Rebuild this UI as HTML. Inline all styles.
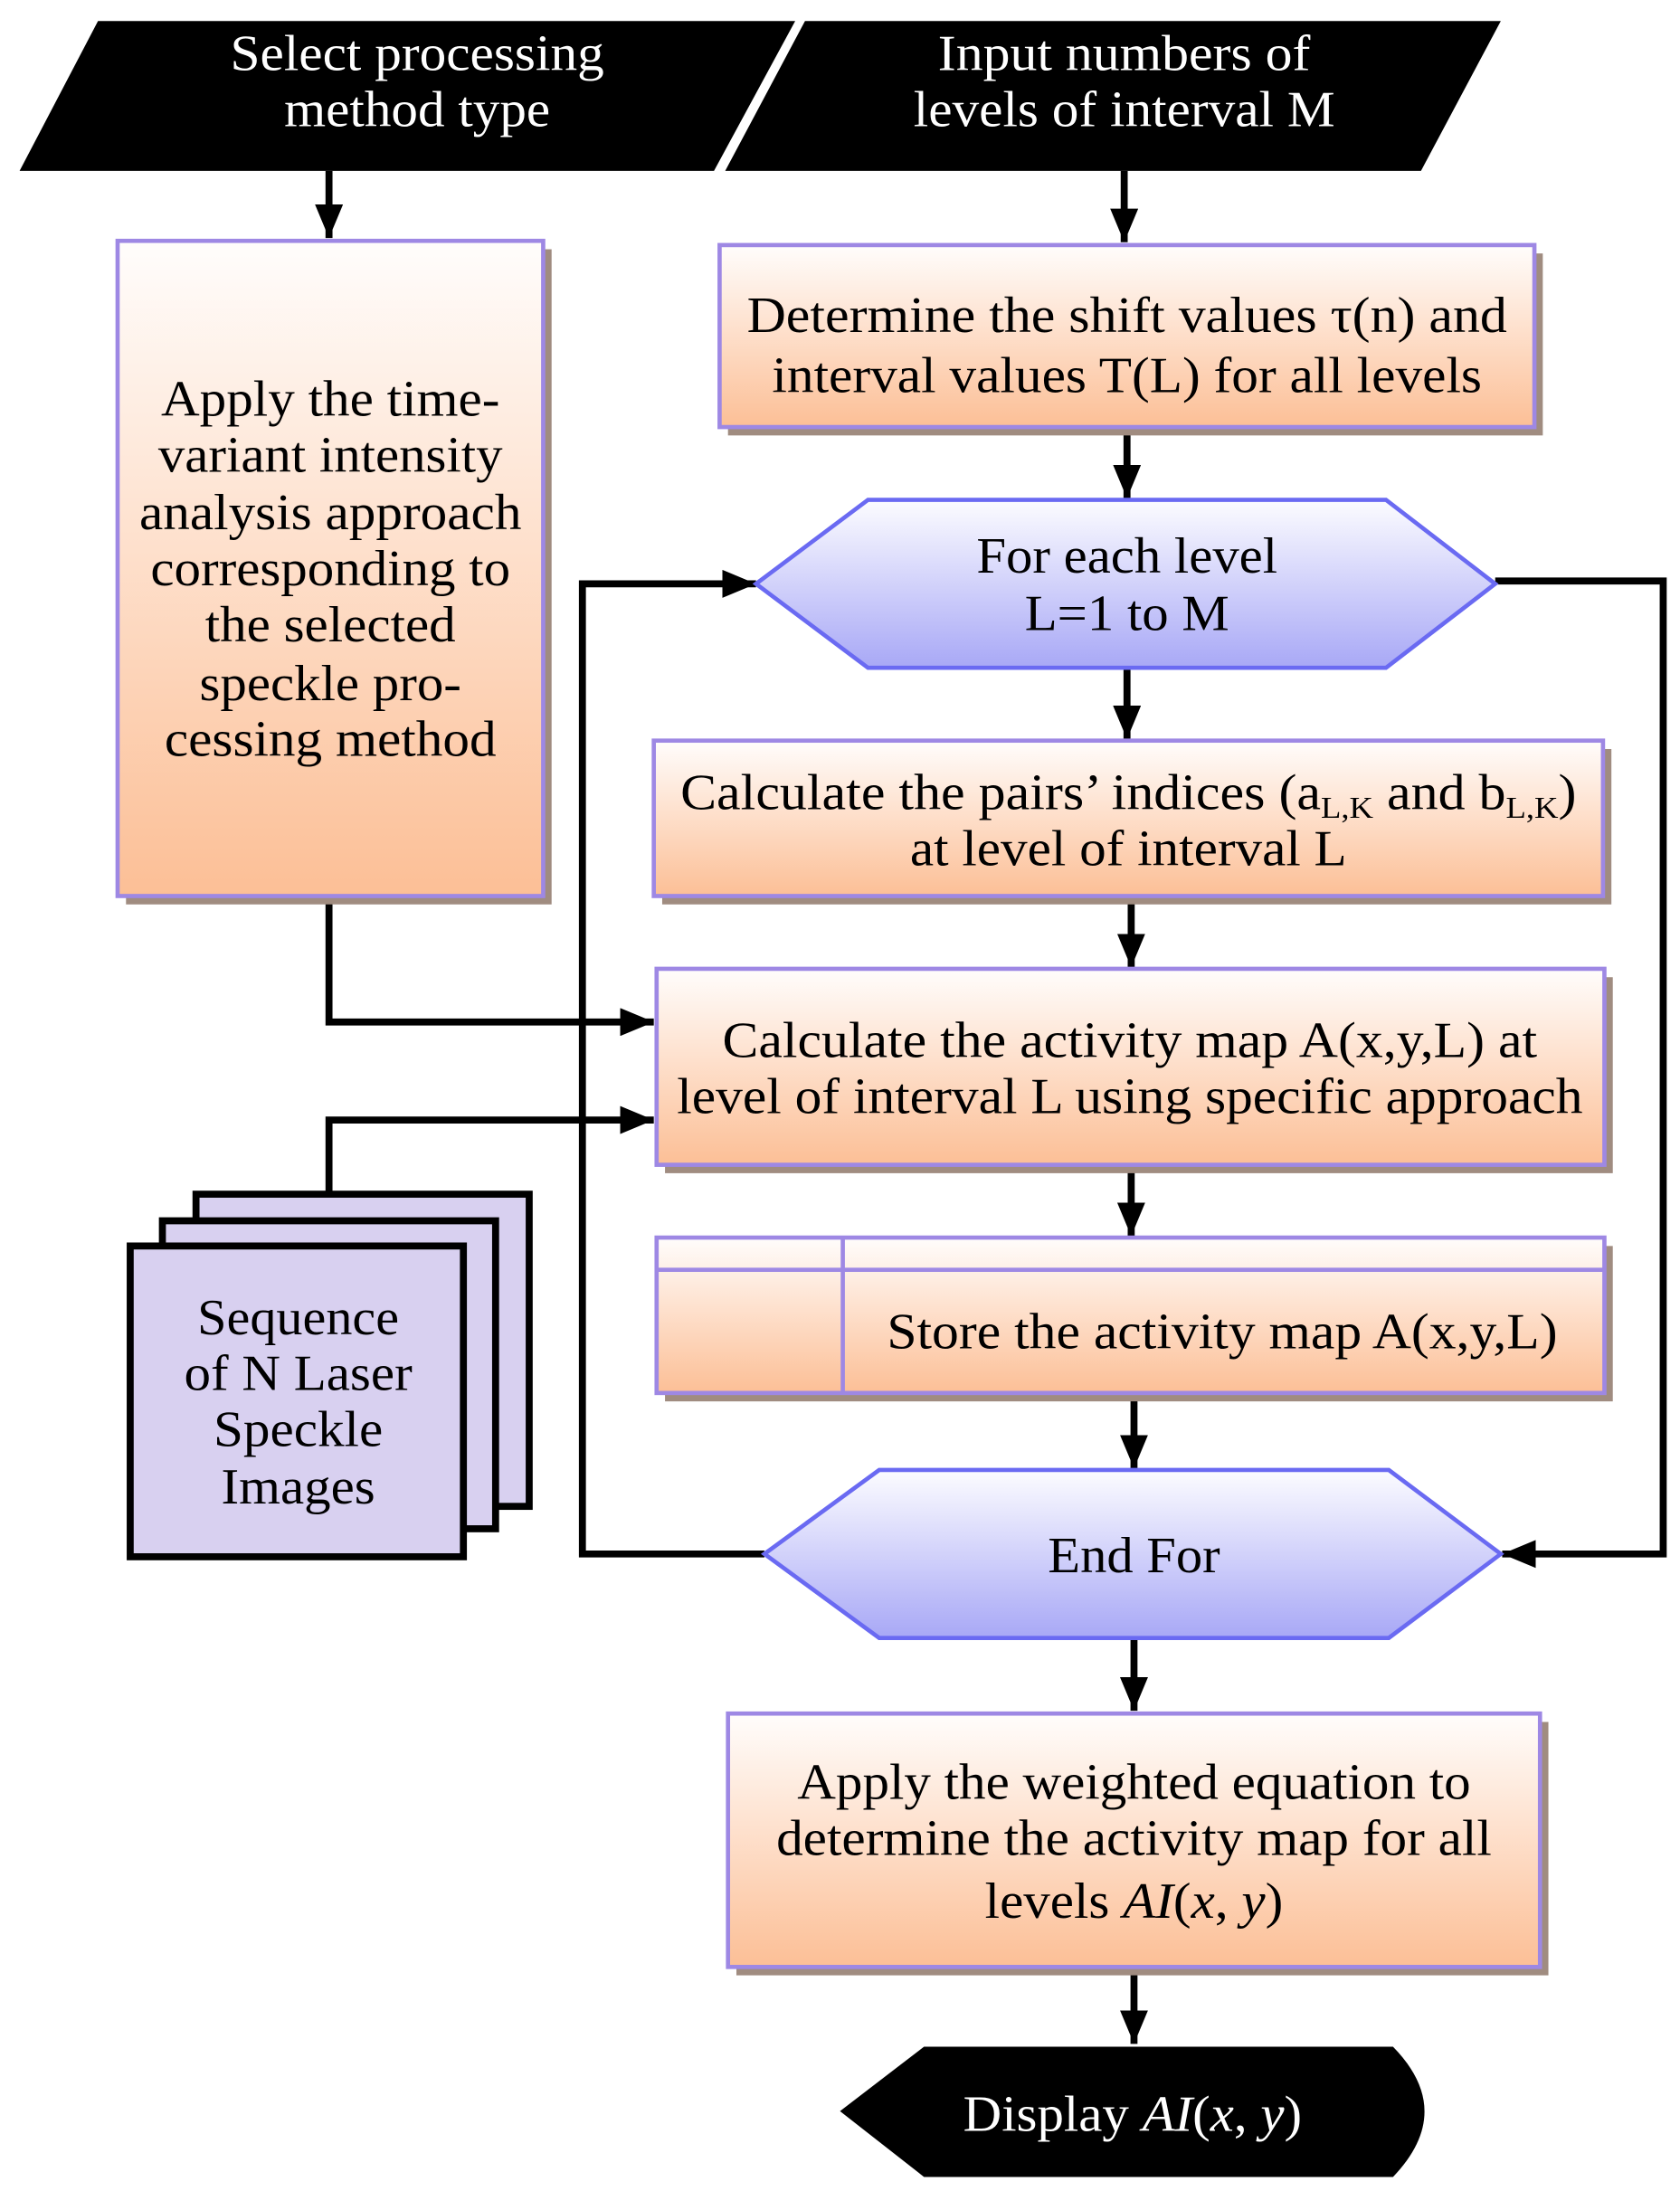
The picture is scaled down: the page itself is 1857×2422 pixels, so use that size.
<!DOCTYPE html>
<html><head><meta charset="utf-8"><style>html,body{margin:0;padding:0;background:#fff}svg{display:block}</style></head>
<body>
<svg width="1857" height="2422" viewBox="0 0 1200 1565" xmlns="http://www.w3.org/2000/svg" font-family="Liberation Serif, serif" font-size="36">
<defs>
<linearGradient id="pe" x1="0" y1="0" x2="0" y2="1"><stop offset="0" stop-color="#fffdfc"/><stop offset="1" stop-color="#fcbf96"/></linearGradient>
<linearGradient id="bl" x1="0" y1="0" x2="0" y2="1"><stop offset="0" stop-color="#fcfcff"/><stop offset="1" stop-color="#a8a8f6"/></linearGradient>
<marker id="ar" markerWidth="24" markerHeight="20" refX="24" refY="10" orient="auto" markerUnits="userSpaceOnUse" viewBox="0 0 24 20"><path d="M0,0 L24,10 L0,20 z"/></marker>
</defs>
<g fill="#000">
<polygon points="70,15 568,15 510,122 14,122"/>
<polygon points="575,15 1072,15 1015,122 518,122"/>
<path d="M600,1508 L660,1462 L995,1462 Q1040,1508 995,1555 L660,1555 Z"/>
</g>
<g fill="#fff" text-anchor="middle">
<text x="298" y="50" textLength="267" lengthAdjust="spacingAndGlyphs">Select processing</text>
<text x="298" y="90" textLength="190" lengthAdjust="spacingAndGlyphs">method type</text>
<text x="803" y="50" textLength="266" lengthAdjust="spacingAndGlyphs">Input numbers of</text>
<text x="803" y="90" textLength="301" lengthAdjust="spacingAndGlyphs">levels of interval M</text>
<text x="809" y="1522" textLength="242" lengthAdjust="spacingAndGlyphs">Display <tspan font-style="italic">AI</tspan>(<tspan font-style="italic">x</tspan>, <tspan font-style="italic">y</tspan>)</text>
</g>
<!-- connectors -->
<g stroke="#000" stroke-width="5" fill="none" marker-end="url(#ar)">
<line x1="235" y1="122" x2="235" y2="170"/>
<line x1="803" y1="122" x2="803" y2="173"/>
<line x1="805" y1="305" x2="805" y2="356"/>
<line x1="805" y1="477" x2="805" y2="528"/>
<line x1="808" y1="640" x2="808" y2="691"/>
<line x1="808" y1="832" x2="808" y2="883"/>
<line x1="810" y1="995" x2="810" y2="1049"/>
<line x1="810" y1="1170" x2="810" y2="1222"/>
<line x1="810" y1="1405" x2="810" y2="1460"/>
<polyline points="1068,415 1188,415 1188,1110 1073,1110"/>
<polyline points="546,1110 416,1110 416,417 540,417"/>
<polyline points="235,640 235,730 467,730"/>
<polyline points="235,890 235,800 467,800"/>
</g>
<!-- shadows -->
<g fill="#a08c80">
<rect x="90" y="178" width="304" height="468"/>
<rect x="520" y="181" width="582" height="130"/>
<rect x="473" y="535" width="678" height="111"/>
<rect x="475" y="698" width="677" height="140"/>
<rect x="475" y="890" width="677" height="111"/>
<rect x="526" y="1230" width="580" height="181"/>
</g>
<g fill="url(#pe)" stroke="#9e88e4" stroke-width="3">
<rect x="84" y="172" width="304" height="468"/>
<rect x="514" y="175" width="582" height="130"/>
<rect x="467" y="529" width="678" height="111"/>
<rect x="469" y="692" width="677" height="140"/>
<rect x="469" y="884" width="677" height="111"/>
<rect x="520" y="1224" width="580" height="181"/>
</g>
<g stroke="#9e88e4" stroke-width="3"><line x1="469" y1="907" x2="1146" y2="907"/><line x1="602" y1="884" x2="602" y2="995"/></g>
<g fill="url(#bl)" stroke="#6a6af2" stroke-width="3">
<polygon points="540,417 620,357 990,357 1068,417 990,477 620,477"/>
<polygon points="546,1110 628,1050 992,1050 1072,1110 992,1170 628,1170"/>
</g>
<!-- stack -->
<g fill="#d8d0f0" stroke="#000" stroke-width="5">
<rect x="140" y="853" width="238" height="223"/>
<rect x="116" y="872" width="238" height="220"/>
<rect x="93" y="890" width="238" height="222"/>
</g>
<g fill="#000" text-anchor="middle">
<text x="236" y="297" textLength="242" lengthAdjust="spacingAndGlyphs">Apply the time-</text>
<text x="236" y="337" textLength="246" lengthAdjust="spacingAndGlyphs">variant intensity</text>
<text x="236" y="378" textLength="273" lengthAdjust="spacingAndGlyphs">analysis approach</text>
<text x="236" y="418" textLength="257" lengthAdjust="spacingAndGlyphs">corresponding to</text>
<text x="236" y="458" textLength="179" lengthAdjust="spacingAndGlyphs">the selected</text>
<text x="236" y="500" textLength="187" lengthAdjust="spacingAndGlyphs">speckle pro-</text>
<text x="236" y="540" textLength="237" lengthAdjust="spacingAndGlyphs">cessing method</text>
<text x="805" y="237" textLength="543" lengthAdjust="spacingAndGlyphs">Determine the shift values τ(n) and</text>
<text x="805" y="280" textLength="507" lengthAdjust="spacingAndGlyphs">interval values T(L) for all levels</text>
<text x="805" y="409" textLength="215" lengthAdjust="spacingAndGlyphs">For each level</text>
<text x="805" y="450" textLength="146" lengthAdjust="spacingAndGlyphs">L=1 to M</text>
<text x="806" y="578" textLength="640" lengthAdjust="spacingAndGlyphs">Calculate the pairs’ indices (a<tspan font-size="22" dy="6">L,K</tspan><tspan dy="-6"> and b</tspan><tspan font-size="22" dy="6">L,K</tspan><tspan dy="-6">)</tspan></text>
<text x="806" y="618" textLength="312" lengthAdjust="spacingAndGlyphs">at level of interval L</text>
<text x="807" y="755" textLength="582" lengthAdjust="spacingAndGlyphs">Calculate the activity map A(x,y,L) at</text>
<text x="807" y="795" textLength="647" lengthAdjust="spacingAndGlyphs">level of interval L using specific approach</text>
<text x="873" y="963" textLength="479" lengthAdjust="spacingAndGlyphs">Store the activity map A(x,y,L)</text>
<text x="810" y="1123" textLength="123" lengthAdjust="spacingAndGlyphs">End For</text>
<text x="810" y="1285" textLength="481" lengthAdjust="spacingAndGlyphs">Apply the weighted equation to</text>
<text x="810" y="1325" textLength="511" lengthAdjust="spacingAndGlyphs">determine the activity map for all</text>
<text x="810" y="1370" textLength="213" lengthAdjust="spacingAndGlyphs">levels <tspan font-style="italic">AI</tspan>(<tspan font-style="italic">x</tspan>, <tspan font-style="italic">y</tspan>)</text>
<text x="213" y="953" textLength="144" lengthAdjust="spacingAndGlyphs">Sequence</text>
<text x="213" y="993" textLength="163" lengthAdjust="spacingAndGlyphs">of N Laser</text>
<text x="213" y="1033" textLength="121" lengthAdjust="spacingAndGlyphs">Speckle</text>
<text x="213" y="1074" textLength="110" lengthAdjust="spacingAndGlyphs">Images</text>
</g>
</svg>
</body></html>
